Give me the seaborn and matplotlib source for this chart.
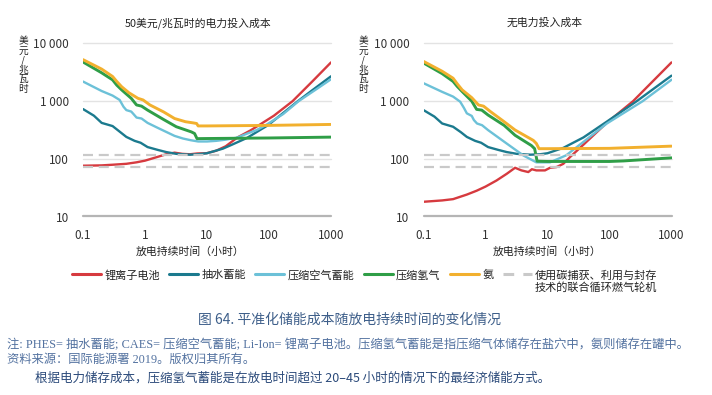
import matplotlib
matplotlib.use("Agg")
import matplotlib.pyplot as plt
import seaborn as sns
from matplotlib.lines import Line2D

sns.set_theme(style="white")
plt.rcParams['font.family'] = ['Noto Sans CJK SC', 'DejaVu Sans']

# ---- data (hours, USD/MWh) ----
panel_titles = ["50美元/兆瓦时的电力投入成本", "无电力投入成本"]
tech_names = ["锂离子电池", "抽水蓄能", "压缩空气蓄能", "压缩氢气", "氨",
              "使用碳捕获、利用与封存"]
tech_name_2nd_line = "技术的联合循环燃气轮机"
tech_colors = ["#d63a3f", "#1b7a8e", "#6cc1d8", "#2f9e47", "#f2b02e", "#c9c9c9"]
tech_widths = [1.7, 1.7, 1.7, 2.1, 2.1, 1.7]
ccgt_ccus_levels = [118, 72]

x_ticks = [0.1, 1, 10, 100, 1000]
x_ticklabels = ["0.1", "1", "10", "100", "1000"]
y_ticks = [10, 100, 1000, 10000]
y_ticklabels = ["10", "100", "1 000", "10 000"]

# left panel: with 50 USD/MWh electricity input cost
li_x_a = [0.1, 0.2, 0.3, 0.5, 0.73, 1.0, 1.5, 2.2, 3.0, 4.0, 5.3, 7, 9.8, 14, 20, 31, 50, 68, 120, 240, 500, 1000]
li_y_a = [76, 77, 79, 82, 87, 93, 106, 120, 128, 122, 120, 124, 125, 138, 165, 235, 310, 380, 560, 1000, 2200, 4700]
ph_x_a = [0.1, 0.15, 0.2, 0.3, 0.4, 0.5, 0.68, 0.85, 1.1, 1.6, 2.2, 3.2, 5.3, 7, 10, 18, 25, 44, 97, 292, 500, 1000]
ph_y_a = [730, 560, 420, 370, 290, 240, 205, 190, 160, 143, 131, 122, 118, 120, 125, 150, 175, 230, 385, 1000, 1550, 2700]
ca_x_a = [0.1, 0.2, 0.3, 0.39, 0.45, 0.5, 0.6, 0.65, 0.73, 0.88, 1.1, 1.6, 2.2, 3, 4.1, 5.5, 7.2, 10, 14, 20, 30, 45, 63, 91, 170, 300, 600, 1000]
ca_y_a = [2190, 1500, 1250, 1050, 800, 700, 660, 600, 520, 500, 420, 345, 293, 250, 225, 210, 200, 200, 205, 215, 232, 275, 315, 390, 600, 1000, 1650, 2400]
h2_x_a = [0.1, 0.2, 0.3, 0.35, 0.42, 0.6, 0.73, 0.88, 1.1, 2, 3.2, 5.6, 6.3, 6.9, 10, 100, 1000]
h2_y_a = [4780, 3100, 2340, 1900, 1570, 1120, 860, 820, 700, 480, 360, 293, 275, 224, 225, 230, 238]
nh3_x_a = [0.1, 0.2, 0.3, 0.35, 0.42, 0.55, 0.77, 0.93, 1.2, 2, 3, 4.5, 6, 6.8, 7.2, 10, 100, 1000]
nh3_y_a = [5250, 3600, 2680, 2200, 1780, 1400, 1120, 1050, 860, 650, 500, 440, 420, 410, 372, 372, 380, 395]

# right panel: no electricity input cost
li_x_b = [0.1, 0.2, 0.3, 0.5, 0.72, 1, 1.5, 2.2, 3, 3.8, 4.9, 5.6, 6.6, 9.1, 11, 14, 18, 23, 38, 90, 240, 1000]
li_y_b = [18, 19, 20, 24, 28, 33, 42, 55, 70, 63, 59, 66, 63, 63, 70, 72, 82, 107, 176, 420, 1000, 4700]
ph_x_b = [0.1, 0.15, 0.2, 0.3, 0.4, 0.5, 0.68, 0.85, 1.1, 1.6, 2.2, 3.2, 5.3, 7.6, 10, 18, 38, 90, 275, 1000]
ph_y_b = [700, 540, 410, 360, 290, 240, 205, 190, 160, 143, 131, 122, 118, 120, 125, 155, 235, 440, 1000, 2770]
ca_x_b = [0.1, 0.2, 0.3, 0.39, 0.45, 0.5, 0.6, 0.65, 0.73, 0.88, 1.1, 2.2, 4.1, 6.6, 11, 20, 38, 90, 343, 1000]
ca_y_b = [2050, 1450, 1200, 980, 760, 615, 555, 470, 410, 383, 315, 184, 114, 87, 87, 115, 197, 408, 1000, 2350]
h2_x_b = [0.1, 0.2, 0.3, 0.35, 0.42, 0.6, 0.72, 0.87, 1.1, 2, 3, 5.5, 6.2, 6.8, 10, 100, 170, 1000]
h2_y_b = [4600, 3000, 2200, 1800, 1470, 1000, 720, 700, 575, 380, 256, 170, 150, 91, 90, 90, 92, 104]
nh3_x_b = [0.1, 0.2, 0.3, 0.35, 0.42, 0.6, 0.77, 0.93, 1.2, 2, 3, 5.9, 6.6, 7.3, 10, 100, 1000]
nh3_y_b = [4900, 3300, 2500, 2000, 1570, 1150, 860, 820, 660, 440, 316, 209, 185, 150, 150, 152, 166]

panels = [
    [(li_x_a, li_y_a), (ph_x_a, ph_y_a), (ca_x_a, ca_y_a), (h2_x_a, h2_y_a), (nh3_x_a, nh3_y_a)],
    [(li_x_b, li_y_b), (ph_x_b, ph_y_b), (ca_x_b, ca_y_b), (h2_x_b, h2_y_b), (nh3_x_b, nh3_y_b)],
]

W, H = 712, 395
fig = plt.figure(figsize=(W / 100, H / 100), dpi=100)
fig.patch.set_facecolor("white")

ax_lefts = [83, 423.5]
ax_w, ax_top, ax_bot = 248, 43.5, 216.5
title_x = [198, 545]
xlabel_x = [190, 547]
ylabel_x = [23, 363]

for i, series in enumerate(panels):
    ax = fig.add_axes([ax_lefts[i] / W, 1 - ax_bot / H, ax_w / W, (ax_bot - ax_top) / H])
    ax.set_xscale("log")
    ax.set_yscale("log")
    ax.set_xlim(0.1, 1000)
    ax.set_ylim(10, 10000)
    for s in ax.spines.values():
        s.set_visible(False)
    for yv in y_ticks[1:]:
        ax.axhline(yv, color="#e3e3e3", lw=1.0, zorder=0, clip_on=False)
    ax.axhline(y_ticks[0], color="#b5b5b5", lw=1.6, zorder=0, clip_on=False)

    for j, (xs, ys) in enumerate(series):
        sns.lineplot(x=xs, y=ys, color=tech_colors[j], lw=tech_widths[j],
                     estimator=None, sort=False, ax=ax, legend=False, zorder=3 + j)
    for lv in ccgt_ccus_levels:
        ax.axhline(lv, color=tech_colors[5], lw=1.6, dashes=(4.5, 2.6), zorder=10)

    ax.set_xticks(x_ticks)
    ax.set_xticklabels(x_ticklabels)
    ax.set_yticks(y_ticks)
    ax.set_yticklabels(y_ticklabels)
    ax.minorticks_off()
    ax.tick_params(axis="both", length=0, labelsize=8.5, colors="#333333")
    ax.tick_params(axis="x", pad=9)
    ax.tick_params(axis="y", pad=10)
    ax.set_xlabel("")
    ax.set_ylabel("")

    fig.text(title_x[i] / W, 1 - 23 / H, panel_titles[i], ha="center", va="center",
             fontsize=7.8, color="#222222")
    fig.text(xlabel_x[i] / W, 1 - 252 / H, "放电持续时间（小时）", ha="center", va="center",
             fontsize=7.8, color="#222222")
    fig.text(ylabel_x[i] / W, 1 - 65 / H, "美\n元\n/\n兆\n瓦\n时", ha="center", va="center",
             fontsize=7, linespacing=0.92, color="#222222")

handles = [Line2D([], [], color=c, lw=2.2) for c in tech_colors[:5]]
handles.append(Line2D([], [], color=tech_colors[5], lw=2.2, dashes=(3.5, 3)))
leg = fig.legend(handles, tech_names, ncol=6, loc="center left",
                 bbox_to_anchor=(62 / W, 1 - 275 / H), frameon=False, fontsize=8,
                 handlelength=2.6, handletextpad=0.3, columnspacing=0.85, labelcolor="#222222")

# second line of the last legend label, aligned under its first line
fig.canvas.draw()
last_txt = leg.get_texts()[-1]
bb = last_txt.get_window_extent().transformed(fig.transFigure.inverted())
fig.text(bb.x0, 1 - 288 / H, tech_name_2nd_line, ha="left", va="center",
         fontsize=8, color="#222222")

fig.text(350 / W, 1 - 320 / H, "图 64. 平准化储能成本随放电持续时间的变化情况",
         ha="center", va="center", fontsize=10, color="#3e5f8a")
note_font = ['Liberation Serif', 'Noto Sans CJK SC']
fig.text(7 / W, 1 - 345 / H,
         "注: PHES= 抽水蓄能; CAES= 压缩空气蓄能; Li-Ion= 锂离子电池。压缩氢气蓄能是指压缩气体储存在盐穴中，氨则储存在罐中。",
         ha="left", va="center", fontsize=8.85, color="#5372a0", family=note_font)
fig.text(7 / W, 1 - 360 / H, "资料来源：国际能源署 2019。版权归其所有。",
         ha="left", va="center", fontsize=8.85, color="#5372a0", family=note_font)
fig.text(35 / W, 1 - 378 / H,
         "根据电力储存成本，压缩氢气蓄能是在放电时间超过 20–45 小时的情况下的最经济储能方式。",
         ha="left", va="center", fontsize=9, color="#2b4a7a")

fig.savefig("out.png", dpi=100)
plt.close(fig)
